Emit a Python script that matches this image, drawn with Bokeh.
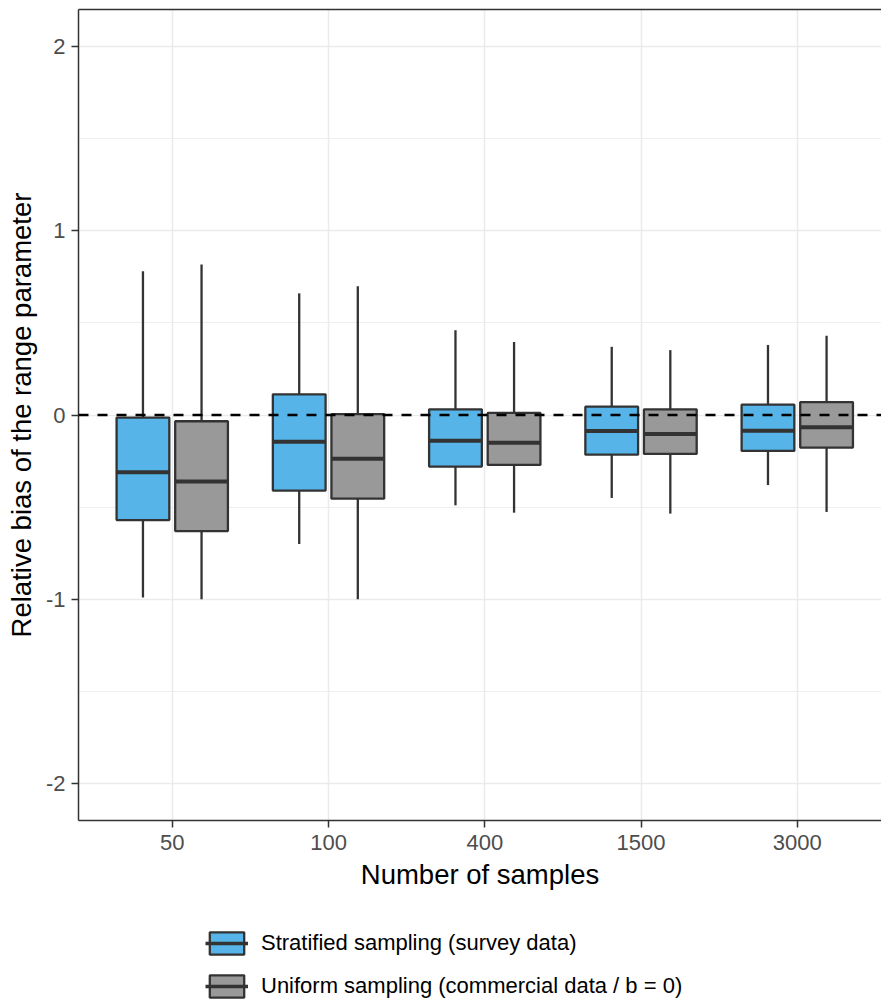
from bokeh.plotting import figure
from bokeh.layouts import column
from bokeh.models import (ColumnDataSource, Range1d, FixedTicker, LinearAxis,
                          Span, Legend, LegendItem)
from bokeh.embed import file_html
from bokeh.resources import INLINE

# ---------------- data ----------------
categories = ["50", "100", "400", "1500", "3000"]
series_labels = ["Stratified sampling (survey data)",
                 "Uniform sampling (commercial data / b = 0)"]

strat_lower = [-0.99, -0.70, -0.49, -0.45, -0.38]
strat_q1 = [-0.57, -0.41, -0.28, -0.215, -0.195]
strat_median = [-0.31, -0.145, -0.14, -0.087, -0.085]
strat_q3 = [-0.014, 0.112, 0.031, 0.045, 0.056]
strat_upper = [0.78, 0.66, 0.46, 0.37, 0.38]

unif_lower = [-1.0, -1.0, -0.53, -0.535, -0.526]
unif_q1 = [-0.63, -0.454, -0.271, -0.211, -0.177]
unif_median = [-0.361, -0.237, -0.150, -0.103, -0.067]
unif_q3 = [-0.034, 0.005, 0.011, 0.031, 0.070]
unif_upper = [0.817, 0.699, 0.396, 0.352, 0.430]

y_ticks = [-2, -1, 0, 1, 2]
y_minor_ticks = [-1.5, -0.5, 0.5, 1.5]

colors = ["#56B4E9", "#999999"]
EDGE = "#333333"
FONT = "Liberation Sans"

BOX_W = 0.3375
DODGE = 0.1875

# ---------------- main figure ----------------
p = figure(width=881, height=900, output_backend="svg", toolbar_location=None,
           x_range=Range1d(0.4, 5.539), y_range=Range1d(-2.2, 2.2),
           min_border_left=78, min_border_right=0, min_border_top=9,
           min_border_bottom=80)
p.outline_line_color = None
p.background_fill_color = "white"
p.border_fill_color = "white"

positions = [i + 1 for i in range(len(categories))]

p.xaxis.ticker = FixedTicker(ticks=positions)
p.xaxis.major_label_overrides = {pos: c for pos, c in zip(positions, categories)}
p.yaxis.ticker = FixedTicker(ticks=y_ticks, minor_ticks=y_minor_ticks)
p.yaxis.major_label_overrides = {t: str(t) for t in y_ticks}

p.xgrid.grid_line_color = "#EBEBEB"
p.xgrid.grid_line_width = 1.5
p.ygrid.grid_line_color = "#EBEBEB"
p.ygrid.grid_line_width = 1.5
p.ygrid.minor_grid_line_color = "#EBEBEB"
p.ygrid.minor_grid_line_width = 0.8

for ax in (p.xaxis[0], p.yaxis[0]):
    ax.axis_line_color = EDGE
    ax.axis_line_width = 1.5
    ax.major_tick_line_color = EDGE
    ax.major_tick_line_width = 1.5
    ax.major_tick_in = 0
    ax.major_tick_out = 7
    ax.minor_tick_line_color = None
    ax.major_label_text_font = FONT
    ax.major_label_text_font_size = "22px"
    ax.major_label_text_color = "#4D4D4D"
    ax.axis_label_text_font = FONT
    ax.axis_label_text_font_size = "27.5px"
    ax.axis_label_text_font_style = "normal"
    ax.axis_label_text_color = "black"

p.xaxis.axis_label = "Number of samples"
p.yaxis.axis_label = "Relative bias of the range parameter"
p.xaxis.major_label_standoff = 7
p.xaxis.axis_label_standoff = 6
p.yaxis.major_label_standoff = 6
p.yaxis.axis_label_standoff = 6

# top border of the panel
top_axis = LinearAxis(ticker=FixedTicker(ticks=[]), major_tick_in=0, major_tick_out=0,
                      minor_tick_in=0, minor_tick_out=0,
                      major_label_text_font_size="0px",
                      axis_line_color=EDGE, axis_line_width=1.5)
p.add_layout(top_axis, "above")

# ---------------- legend strip (its own small figure) ----------------
lg = figure(width=881, height=106, output_backend="svg", toolbar_location=None,
            x_axis_type=None, y_axis_type=None,
            x_range=Range1d(100, 101), y_range=Range1d(-2.2, 2.2),
            min_border_left=0, min_border_right=0, min_border_top=0,
            min_border_bottom=0)
lg.outline_line_color = None
lg.grid.visible = False
lg.background_fill_color = "white"
lg.border_fill_color = "white"

# ---------------- boxes ----------------
data = [
    (strat_lower, strat_q1, strat_median, strat_q3, strat_upper, -DODGE),
    (unif_lower, unif_q1, unif_median, unif_q3, unif_upper, DODGE),
]

legend_items = []
for (lo, q1, med, q3, up, off), col, lab in zip(data, colors, series_labels):
    xs = [pos + off for pos in positions]
    src = ColumnDataSource(dict(
        x=xs, lower=lo, q1=q1, median=med, q3=q3, upper=up,
        left=[x - BOX_W / 2 for x in xs], right=[x + BOX_W / 2 for x in xs],
    ))
    p.segment(x0="x", y0="lower", x1="x", y1="upper", source=src,
              line_color=EDGE, line_width=2.3)
    p.vbar(x="x", width=BOX_W, bottom="q1", top="q3", source=src,
           fill_color=col, line_color=EDGE, line_width=2.3)
    p.segment(x0="left", y0="median", x1="right", y1="median", source=src,
              line_color=EDGE, line_width=4, line_cap="butt")
    # hidden copies: only their legend keys are drawn
    box_k = lg.vbar(x="x", width=BOX_W, bottom="q1", top="q3", source=src,
                    fill_color=col, line_color=EDGE, line_width=2.3, visible=False)
    med_k = lg.segment(x0="left", y0="median", x1="right", y1="median", source=src,
                       line_color=EDGE, line_width=3.5, line_cap="butt", visible=False)
    legend_items.append(LegendItem(label=lab, renderers=[box_k, med_k]))

zero = Span(location=0, dimension="width", line_color="black",
            line_dash="10 9", line_width=2.5)
p.add_layout(zero)

legend = Legend(items=legend_items, location=(127, 6), orientation="vertical",
                glyph_width=43, glyph_height=28, label_height=28,
                spacing=15, padding=0, margin=0, label_standoff=13,
                label_text_font=FONT, label_text_font_size="22px",
                label_text_color="black", border_line_color=None,
                background_fill_alpha=0, click_policy="none")
lg.add_layout(legend)

layout = column(p, lg, spacing=0)
open("out.html", "w").write(file_html(layout, INLINE, title="Relative bias boxplot"))
